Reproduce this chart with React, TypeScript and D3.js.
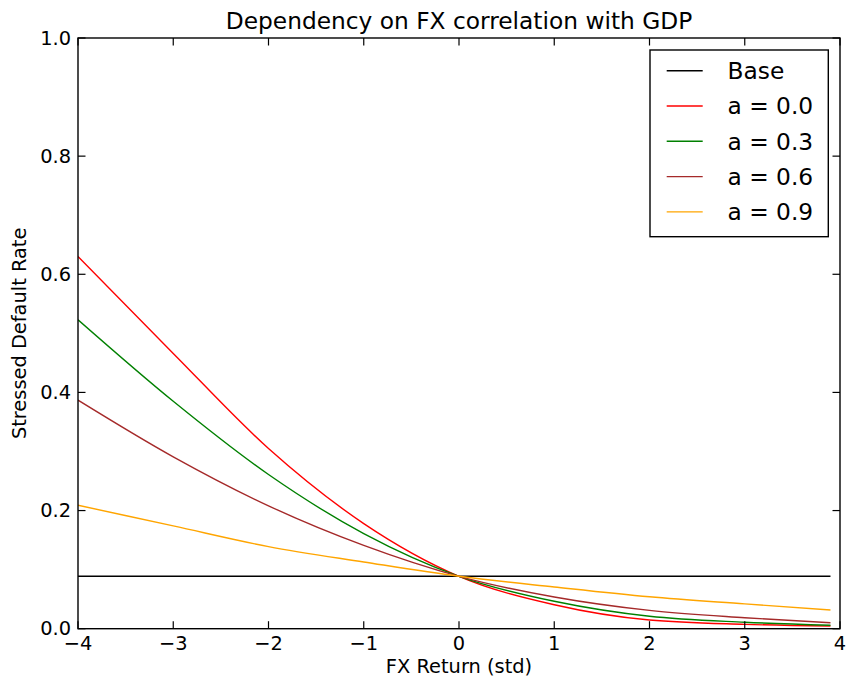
import React, { useEffect } from 'react'
import * as d3 from 'd3'

// x positions (FX return, std)
const xValues = [-4, -3, -2, -1, 0, 1, 2, 3, 3.9]

// stressed default rate
const baseRate = [0.0887, 0.0887, 0.0887, 0.0887, 0.0887, 0.0887, 0.0887, 0.0887, 0.0887]
const rateA00 = [0.63, 0.466, 0.305, 0.178, 0.0887, 0.0406, 0.0147, 0.0074, 0.0045]
const rateA03 = [0.523, 0.385, 0.261, 0.161, 0.0887, 0.0464, 0.021, 0.011, 0.0058]
const rateA06 = [0.387, 0.291, 0.208, 0.141, 0.0887, 0.0537, 0.031, 0.0186, 0.01]
const rateA09 = [0.209, 0.174, 0.139, 0.113, 0.0887, 0.0706, 0.054, 0.042, 0.0317]

const seriesNames = ['Base', 'a = 0.0', 'a = 0.3', 'a = 0.6', 'a = 0.9']
const seriesColors = ['#000000', '#ff0000', '#008000', '#a52a2a', '#ffa500']
const seriesValues = [baseRate, rateA00, rateA03, rateA06, rateA09]

const xTicks = [-4, -3, -2, -1, 0, 1, 2, 3, 4]
const yTicks = [0, 0.2, 0.4, 0.6, 0.8, 1.0]

const W = 846
const H = 681
const M = { left: 78, right: 6, top: 38, bottom: 52.3 }
const FONT = 'DejaVu Sans, sans-serif'

export default function App() {
  useEffect(() => {
    document.body.style.margin = '0'
  }, [])

  const x = d3.scaleLinear().domain([-4, 4]).range([M.left, W - M.right])
  const y = d3.scaleLinear().domain([0, 1]).range([H - M.bottom, M.top])
  const line = d3.line<number>()
    .x((_, i) => x(xValues[i]))
    .y(d => y(d))
    .curve(d3.curveMonotoneX)

  const x0 = M.left
  const x1 = W - M.right
  const y0 = H - M.bottom
  const y1 = M.top
  const tickLen = 7.5

  const fmtX = (v: number) => (v < 0 ? '\u2212' + Math.abs(v) : String(v))

  // legend
  const lg = { x: 650, y: 50, w: 178.3, h: 186.7, row: 35.3, first: 70.7 }

  return (
    <svg width={W} height={H} style={{ display: 'block', background: '#fff' }} fontFamily={FONT}>
      <g clipPath="url(#plot)">
        <clipPath id="plot">
          <rect x={x0} y={y1} width={x1 - x0} height={y0 - y1} />
        </clipPath>
        {seriesValues.map((vals, i) => (
          <path key={i} d={line(vals) || ''} fill="none" stroke={seriesColors[i]} strokeWidth={1.4} />
        ))}
      </g>

      {/* frame */}
      <rect x={x0} y={y1} width={x1 - x0} height={y0 - y1} fill="none" stroke="#000" strokeWidth={1.4} />

      {/* x ticks */}
      {xTicks.map(t => (
        <g key={'x' + t}>
          <line x1={x(t)} x2={x(t)} y1={y0} y2={y0 - tickLen} stroke="#000" strokeWidth={1.2} />
          <line x1={x(t)} x2={x(t)} y1={y1} y2={y1 + tickLen} stroke="#000" strokeWidth={1.2} />
          <text x={x(t)} y={y0 + 21.5} fontSize={19.4} textAnchor="middle" fill="#000">{fmtX(t)}</text>
        </g>
      ))}

      {/* y ticks */}
      {yTicks.map(t => (
        <g key={'y' + t}>
          <line x1={x0} x2={x0 + tickLen} y1={y(t)} y2={y(t)} stroke="#000" strokeWidth={1.2} />
          <line x1={x1} x2={x1 - tickLen} y1={y(t)} y2={y(t)} stroke="#000" strokeWidth={1.2} />
          <text x={x0 - 7} y={y(t)} dy="0.35em" fontSize={19.4} textAnchor="end" fill="#000">{t.toFixed(1)}</text>
        </g>
      ))}

      <text x={(x0 + x1) / 2} y={29.3} fontSize={23.3} textAnchor="middle" fill="#000">
        Dependency on FX correlation with GDP
      </text>
      <text x={(x0 + x1) / 2} y={673} fontSize={19.4} textAnchor="middle" fill="#000">FX Return (std)</text>
      <text transform={`translate(26,${(y0 + y1) / 2}) rotate(-90)`} fontSize={19.4} textAnchor="middle" fill="#000">
        Stressed Default Rate
      </text>

      {/* legend */}
      <rect x={lg.x} y={lg.y} width={lg.w} height={lg.h} fill="#fff" stroke="#000" strokeWidth={1.4} />
      {seriesNames.map((name, i) => {
        const cy = lg.first + i * lg.row
        return (
          <g key={name}>
            <line x1={666.7} x2={702.7} y1={cy} y2={cy} stroke={seriesColors[i]} strokeWidth={1.4} />
            <text x={727.5} y={cy} dy="0.36em" fontSize={23.3} fill="#000">{name}</text>
          </g>
        )
      })}
    </svg>
  )
}
